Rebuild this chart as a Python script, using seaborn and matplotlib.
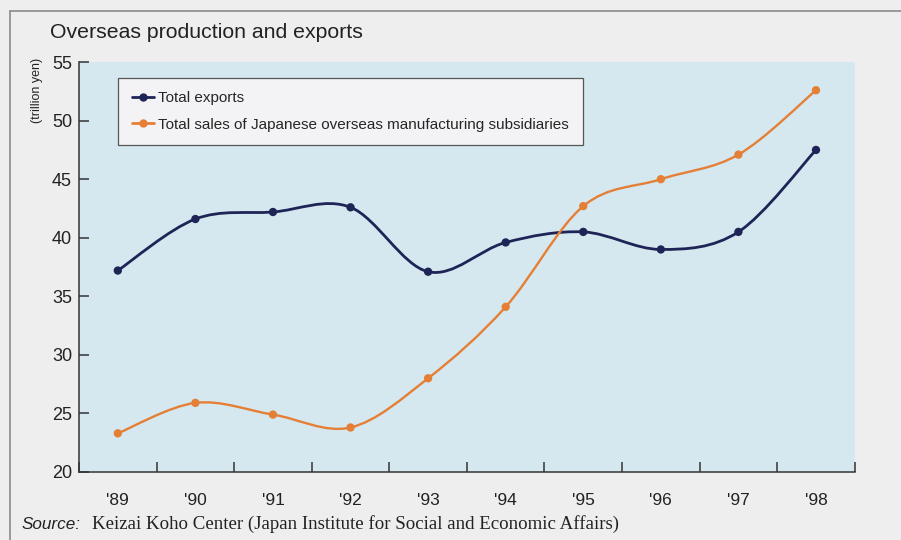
import numpy as np
import pandas as pd
import seaborn as sns
import matplotlib.pyplot as plt
from matplotlib.path import Path
from matplotlib.patches import PathPatch
from matplotlib.lines import Line2D

# data (trillion yen)
years = ["'89", "'90", "'91", "'92", "'93", "'94", "'95", "'96", "'97", "'98"]
total_exports = [37.2, 41.6, 42.2, 42.6, 37.1, 39.6, 40.5, 39.0, 40.5, 47.5]
overseas_sales = [23.3, 25.9, 24.9, 23.8, 28.0, 34.1, 42.7, 45.0, 47.1, 52.6]

series_names = ["Total exports",
                "Total sales of Japanese overseas manufacturing subsidiaries"]
series_colors = ["#1e2556", "#e57f35"]

df = pd.DataFrame({
    "pos": list(range(len(years))) * 2,
    "value": total_exports + overseas_sales,
    "series": [series_names[0]] * len(years) + [series_names[1]] * len(years),
})

sns.set_style("ticks")
plt.rcParams["font.family"] = ["Liberation Sans", "DejaVu Sans"]


def smooth_path(xs, ys):
    # Catmull-Rom segments drawn as cubic Bezier curves through the data points
    pts = np.column_stack([xs, ys]).astype(float)
    ext = np.vstack([pts[0], pts, pts[-1]])
    verts = [pts[0]]
    codes = [Path.MOVETO]
    for i in range(len(pts) - 1):
        p0, p1, p2, p3 = ext[i], ext[i + 1], ext[i + 2], ext[i + 3]
        verts += [p1 + (p2 - p0) / 6, p2 - (p3 - p1) / 6, p2]
        codes += [Path.CURVE4] * 3
    return Path(verts, codes)


fig = plt.figure(figsize=(9.01, 5.4), dpi=100, facecolor="#efeeef")
ax = fig.add_axes([0.0877, 0.126, 0.861, 0.759])
ax.set_facecolor("#d5e8f0")

for name, color, lw in zip(series_names, series_colors, [2.0, 1.7]):
    sub = df[df["series"] == name]
    ax.add_patch(PathPatch(smooth_path(sub["pos"], sub["value"]), facecolor="none",
                           edgecolor=color, lw=lw, zorder=2))

sns.scatterplot(data=df, x="pos", y="value", hue="series", palette=series_colors,
                s=36, edgecolor="none", legend=False, ax=ax, zorder=3)

ax.set_xlim(-0.5, len(years) - 0.5)
ax.set_ylim(20, 55)
ax.set_yticks(np.arange(20, 56, 5))
ax.set_xticks(range(len(years)))
ax.set_xticklabels(years)
ax.set_xticks(np.arange(-0.5, len(years), 1.0), minor=True)
ax.tick_params(axis="x", which="major", length=0, pad=15, labelsize=12.5, colors="#222")
ax.tick_params(axis="x", which="minor", length=7, width=1.1, direction="in", color="#333")
ax.tick_params(axis="y", length=7, width=1.1, direction="in", pad=5, labelsize=13,
               labelcolor="#222", color="#333")
ax.set_xlabel("")
ax.set_ylabel("")
for side in ["top", "right"]:
    ax.spines[side].set_visible(False)
for side in ["left", "bottom"]:
    ax.spines[side].set_color("#333")
    ax.spines[side].set_linewidth(1.1)

handles = [Line2D([], [], color=c, lw=2, marker="o", markersize=5) for c in series_colors]
leg = ax.legend(handles, series_names, loc="upper left", bbox_to_anchor=(0.05, 0.962),
                borderaxespad=0, fontsize=11, frameon=True, fancybox=False, framealpha=1,
                edgecolor="#555", facecolor="#f3f3f5", handlelength=1.45,
                handletextpad=0.3, borderpad=0.9, labelspacing=0.8)
leg.get_frame().set_linewidth(0.9)

fig.text(0.0555, 0.939, "Overseas production and exports", fontsize=15.3,
         va="center", ha="left", color="#222")
fig.text(0.041, 0.833, "(trillion yen)", fontsize=9, rotation=90,
         va="center", ha="center", color="#222")
fig.text(0.0244, 0.029, "Source:", fontsize=12.3, style="italic",
         va="center", ha="left", color="#222")
fig.text(0.102, 0.029, "Keizai Koho Center (Japan Institute for Social and Economic Affairs)",
         fontsize=13.6, family="Liberation Serif", va="center", ha="left", color="#222")

# frame around the figure
fig.add_artist(Line2D([10 / 901, 1], [1 - 11 / 540] * 2, transform=fig.transFigure,
                      color="#8a8a8a", lw=1.2))
fig.add_artist(Line2D([10 / 901] * 2, [0, 1 - 11 / 540], transform=fig.transFigure,
                      color="#8a8a8a", lw=1.2))

fig.savefig("out.png", dpi=100, facecolor=fig.get_facecolor())
